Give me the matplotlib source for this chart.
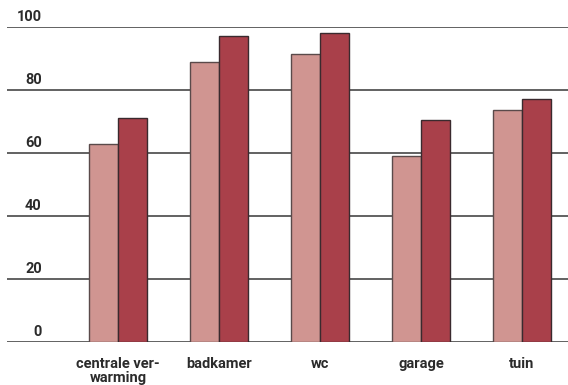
import numpy as np
import matplotlib
matplotlib.use("Agg")
import matplotlib.pyplot as plt

plt.rcParams['font.family'] = ['Roboto', 'DejaVu Sans']

categories = ['centrale ver-\nwarming', 'badkamer', 'wc', 'garage', 'tuin']
series_a = [63, 89, 91.5, 59, 73.5]
series_b = [71, 97, 98, 70.5, 77]
yticks = [0, 20, 40, 60, 80, 100]

light = '#d09591'
dark = '#a9404a'
grid_col = '#555555'
txt_col = '#2b2b2b'

fig = plt.figure(figsize=(5.68, 3.85), dpi=100)
ax = fig.add_axes([7/568, 1 - 342/385, 1 - 7/568, (342 - 27)/385])

x = np.arange(len(categories))
w = 0.287

for t in yticks:
    ax.axhline(t, color=grid_col, lw=1.3, zorder=1)
    ax.text(0.062, t + 0.8, str(t), transform=ax.get_yaxis_transform(),
            ha='right', va='bottom', fontsize=10.5, fontweight='bold', color=txt_col)

ax.bar(x - w/2, series_a, w, color=light, edgecolor='#5a4a4a', linewidth=1.0, zorder=2)
ax.bar(x + w/2, series_b, w, color=dark, edgecolor='#3a2a2e', linewidth=1.0, zorder=2)

ax.set_xlim(-1.1, 4.455)
ax.set_ylim(0, 100)
ax.set_yticks([])
ax.set_xticks(x)
ax.set_xticklabels(categories, fontsize=10.5, fontweight='bold', color=txt_col,
                   linespacing=1.0)
ax.tick_params(axis='x', length=0, pad=11)
for s in ax.spines.values():
    s.set_visible(False)

fig.savefig('out.png', dpi=100)
